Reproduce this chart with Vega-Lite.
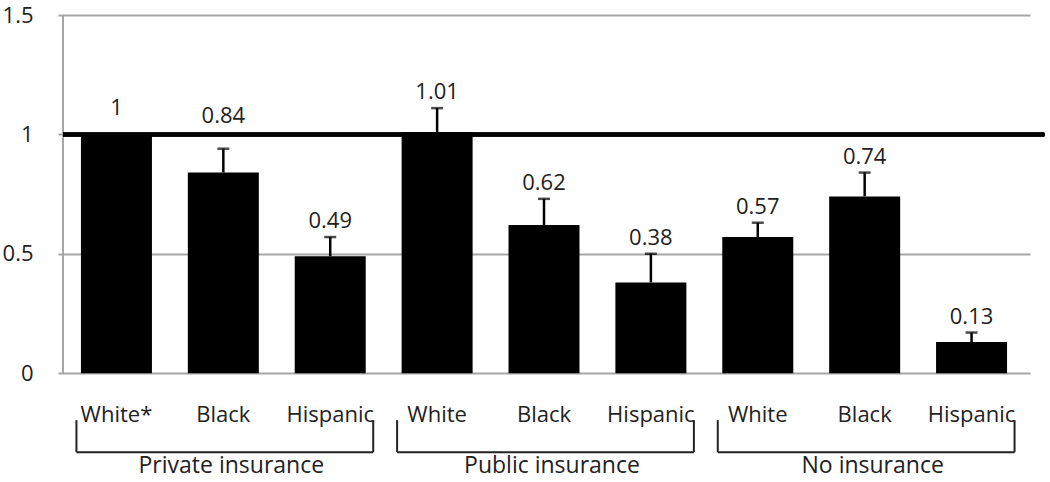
{
  "$schema": "https://vega.github.io/schema/vega-lite/v6.json",
  "width": 972,
  "height": 467,
  "autosize": {"type": "none"},
  "padding": {"left": 58, "top": 15, "right": 20, "bottom": 0},
  "background": "white",
  "config": {"view": {"stroke": null}, "font": "Open Sans"},
  "data": {
    "values": [
      {"group": "Private insurance", "race": "White*", "pos": 1, "value": 1, "hi": 1},
      {"group": "Private insurance", "race": "Black", "pos": 2, "value": 0.84, "hi": 0.94},
      {"group": "Private insurance", "race": "Hispanic", "pos": 3, "value": 0.49, "hi": 0.57},
      {"group": "Public insurance", "race": "White", "pos": 4, "value": 1.01, "hi": 1.11},
      {"group": "Public insurance", "race": "Black", "pos": 5, "value": 0.62, "hi": 0.73},
      {"group": "Public insurance", "race": "Hispanic", "pos": 6, "value": 0.38, "hi": 0.5},
      {"group": "No insurance", "race": "White", "pos": 7, "value": 0.57, "hi": 0.63},
      {"group": "No insurance", "race": "Black", "pos": 8, "value": 0.74, "hi": 0.84},
      {"group": "No insurance", "race": "Hispanic", "pos": 9, "value": 0.13, "hi": 0.17}
    ]
  },
  "encoding": {
    "x": {"field": "pos", "type": "quantitative", "scale": {"domain": [0.5, 9.5], "nice": false, "zero": false}, "axis": null}
  },
  "layer": [
    {
      "mark": {"type": "bar", "size": 71, "color": "black"},
      "encoding": {
        "y": {
          "field": "value", "type": "quantitative",
          "scale": {"domain": [-0.456, 1.5], "nice": false, "zero": false},
          "axis": {"values": [0, 0.5, 1, 1.5], "format": "~g", "title": null, "domain": false, "ticks": false, "grid": true, "gridColor": "#a6a6a6", "gridWidth": 2, "labelFontSize": 22, "labelColor": "#222222", "labelPadding": 25, "labelFont": "Open Sans"}
        }
      }
    },
    {
      "mark": {"type": "rule", "color": "#a6a6a6", "strokeWidth": 2},
      "encoding": {"x": {"datum": 0.5}, "y": {"datum": 0}, "y2": {"datum": 1.5}}
    },
    {
      "transform": [{"filter": "datum.hi > datum.value"}],
      "mark": {"type": "rule", "color": "black", "strokeWidth": 2.5},
      "encoding": {"y": {"field": "value", "type": "quantitative"}, "y2": {"field": "hi"}}
    },
    {
      "transform": [{"filter": "datum.hi > datum.value"}],
      "mark": {"type": "tick", "orient": "horizontal", "color": "black", "size": 12, "thickness": 2.5},
      "encoding": {"y": {"field": "hi", "type": "quantitative"}}
    },
    {
      "mark": {"type": "rule", "color": "black", "strokeWidth": 3.5},
      "encoding": {"x": {"datum": 0.5}, "x2": {"datum": 9.68}, "y": {"datum": 1}}
    },
    {
      "transform": [{"filter": "datum.hi < 0.9 || datum.hi > 1.05"}],
      "mark": {"type": "text", "baseline": "alphabetic", "dy": -9, "fontSize": 22, "color": "#222222"},
      "encoding": {"y": {"field": "hi", "type": "quantitative"}, "text": {"field": "value", "type": "nominal"}}
    },
    {
      "transform": [{"filter": "datum.value == 1"}],
      "mark": {"type": "text", "baseline": "alphabetic", "dy": -19, "fontSize": 22, "color": "#222222"},
      "encoding": {"y": {"field": "hi", "type": "quantitative"}, "text": {"field": "value", "type": "nominal"}}
    },
    {
      "transform": [{"filter": "datum.value == 0.84"}],
      "mark": {"type": "text", "baseline": "alphabetic", "dy": -26, "fontSize": 22, "color": "#222222"},
      "encoding": {"y": {"field": "hi", "type": "quantitative"}, "text": {"field": "value", "type": "nominal"}}
    },
    {
      "mark": {"type": "text", "baseline": "alphabetic", "fontSize": 22, "color": "#222222"},
      "encoding": {"y": {"datum": -0.205}, "text": {"field": "race", "type": "nominal"}}
    },
    {
      "transform": [{"filter": "datum.race == 'Black'"}],
      "mark": {"type": "text", "baseline": "alphabetic", "fontSize": 23, "dx": 8, "color": "#222222"},
      "encoding": {"y": {"datum": -0.42}, "text": {"field": "group", "type": "nominal"}}
    },
    {
      "transform": [{"aggregate": [{"op": "min", "field": "pos", "as": "first"}, {"op": "max", "field": "pos", "as": "last"}], "groupby": ["group"]}],
      "layer": [
        {
          "mark": {"type": "rule", "color": "#222222", "strokeWidth": 2, "xOffset": -40, "x2Offset": 43},
          "encoding": {"x": {"field": "first", "type": "quantitative"}, "x2": {"field": "last"}, "y": {"datum": -0.331}}
        },
        {
          "mark": {"type": "rule", "color": "#222222", "strokeWidth": 2, "xOffset": -40},
          "encoding": {"x": {"field": "first", "type": "quantitative"}, "y": {"datum": -0.197}, "y2": {"datum": -0.331}}
        },
        {
          "mark": {"type": "rule", "color": "#222222", "strokeWidth": 2, "xOffset": 43},
          "encoding": {"x": {"field": "last", "type": "quantitative"}, "y": {"datum": -0.197}, "y2": {"datum": -0.331}}
        }
      ]
    }
  ]
}
